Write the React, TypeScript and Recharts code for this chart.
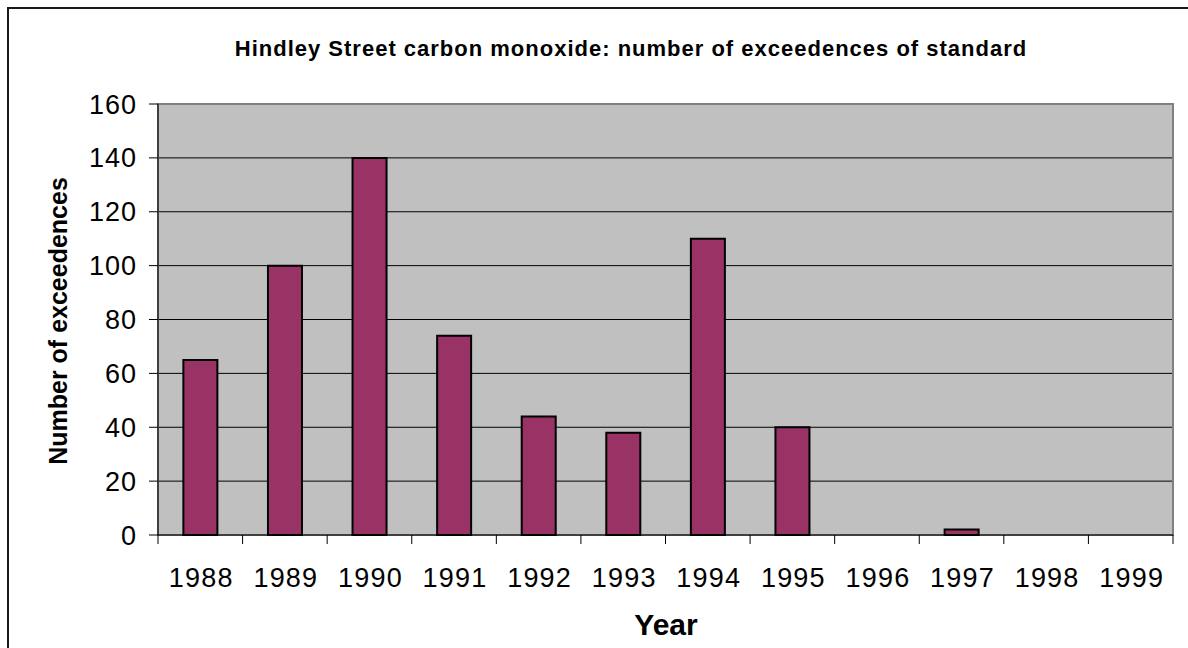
import React from "react";
import {
  BarChart,
  Bar,
  XAxis,
  YAxis,
  CartesianGrid,
  ReferenceArea,
} from "recharts";

const years = ["1988", "1989", "1990", "1991", "1992", "1993", "1994", "1995", "1996", "1997", "1998", "1999"];
const exceedences = [65, 100, 140, 74, 44, 38, 110, 40, 0, 2, 0, 0];
const yTicks = [0, 20, 40, 60, 80, 100, 120, 140, 160];
const gridLines = [20, 40, 60, 80, 100, 120, 140];

const data = years.map((year, i) => ({ year, count: exceedences[i] }));

const FONT = "Arial, 'Liberation Sans', Helvetica, sans-serif";

function YearTick(props: any) {
  const { x, y, payload, index } = props;
  const half = payload?.offset ?? 0;
  const last = index === years.length - 1;
  return (
    <g>
      <line x1={x - half} x2={x - half} y1={y} y2={y + 9} stroke="#000" strokeWidth={1} />
      {last && <line x1={x + half} x2={x + half} y1={y} y2={y + 9} stroke="#000" strokeWidth={1} />}
      <text x={x + 1} y={y + 52} textAnchor="middle" fontSize={27} letterSpacing={1.2} fontFamily={FONT} fill="#000">
        {payload.value}
      </text>
    </g>
  );
}

export default function App() {
  return (
    <div style={{ position: "absolute", left: 0, top: 0, width: 1188, height: 648, background: "#fff", overflow: "hidden", fontFamily: FONT }}>
      <div
        style={{
          position: "absolute",
          left: 7,
          top: 7,
          width: 1200,
          height: 700,
          border: "2px solid #1a1a1a",
          boxSizing: "border-box",
        }}
      />
      <div
        style={{
          position: "absolute",
          left: 631,
          top: 49,
          transform: "translate(-50%, -50%)",
          whiteSpace: "nowrap",
          fontSize: 22,
          letterSpacing: 1,
          fontWeight: "bold",
          color: "#000",
        }}
      >
        Hindley Street carbon monoxide: number of exceedences of standard
      </div>
      <div
        style={{
          position: "absolute",
          left: 58,
          top: 321,
          transform: "translate(-50%, -50%) rotate(-90deg)",
          whiteSpace: "nowrap",
          fontSize: 25,
          fontWeight: "bold",
          color: "#000",
        }}
      >
        Number of exceedences
      </div>
      <div
        style={{
          position: "absolute",
          left: 666,
          top: 625,
          transform: "translate(-50%, -50%)",
          whiteSpace: "nowrap",
          fontSize: 30,
          fontWeight: "bold",
          color: "#000",
        }}
      >
        Year
      </div>
      <div style={{ position: "absolute", left: 0, top: 0 }}>
        <BarChart
          width={1188}
          height={648}
          data={data}
          margin={{ top: 104, right: 15, bottom: 53, left: 58 }}
          barCategoryGap="30%"
        >
          <CartesianGrid
            vertical={false}
            horizontalValues={gridLines}
            fill="#C0C0C0"
            fillOpacity={1}
            stroke="#000"
            strokeWidth={1}
          />
          <ReferenceArea y1={0} y2={160} fill="none" stroke="#808080" strokeWidth={2} ifOverflow="visible" />
          <XAxis
            dataKey="year"
            height={60}
            axisLine={{ stroke: "#000", strokeWidth: 1 }}
            tickLine={false}
            tickSize={0}
            tickMargin={0}
            interval={0}
            tick={<YearTick />}
          />
          <YAxis
            width={100}
            domain={[0, 160]}
            ticks={yTicks}
            interval={0}
            axisLine={{ stroke: "#000", strokeWidth: 1 }}
            tickLine={{ stroke: "#000", strokeWidth: 1 }}
            tickSize={9}
            tickMargin={12}
            tick={{ fill: "#000", fontSize: 27, fontFamily: FONT, letterSpacing: 1 }}
          />
          <Bar dataKey="count" fill="#993366" stroke="#000" strokeWidth={2} isAnimationActive={false} />
        </BarChart>
      </div>
    </div>
  );
}
